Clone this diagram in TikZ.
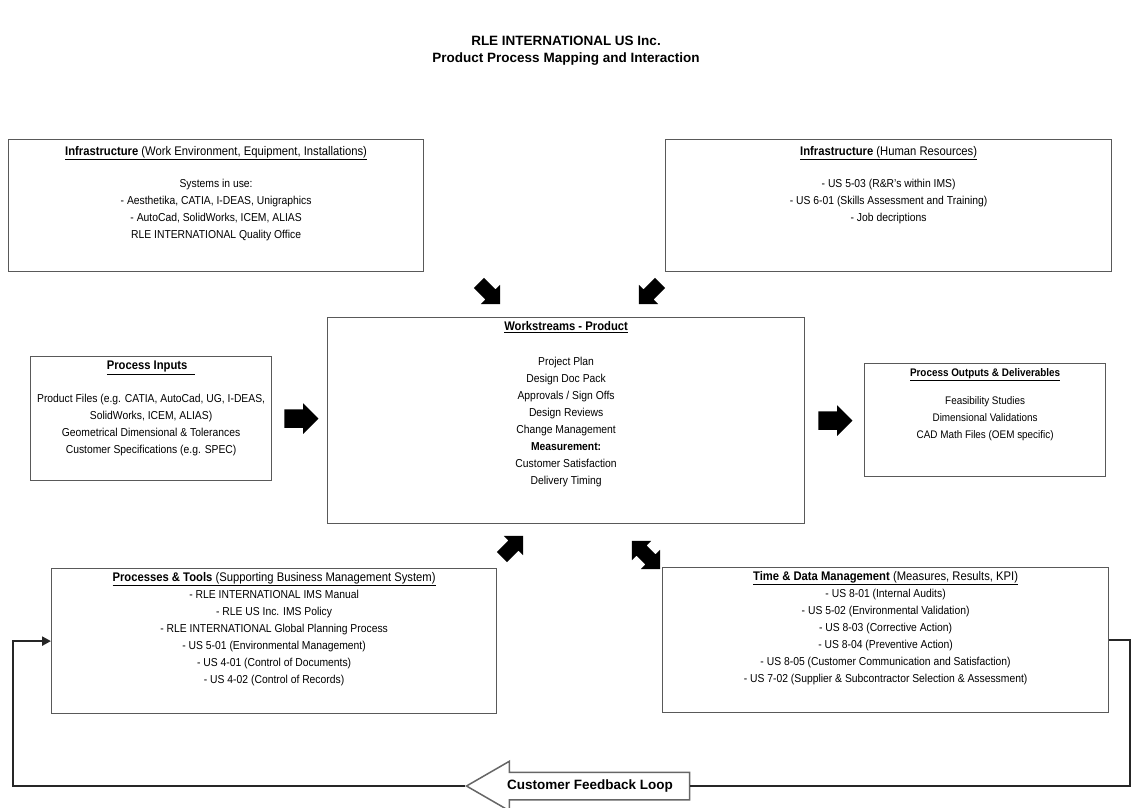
\documentclass[tikz,border=0pt]{standalone}
\usepackage{fontspec}
\setmainfont{Liberation Sans}[FakeStretch=0.9]
\newfontfamily\titlefont{Liberation Sans}
\usetikzlibrary{shapes.arrows,arrows.meta,positioning}

\newcommand{\boxhead}[1]{{\fontsize{12.5}{17}\selectfont\underline{#1}}}

\begin{document}
\begin{tikzpicture}[x=1pt,y=-1pt,
    panel/.style={draw=black!65, line width=1.2pt, fill=white, anchor=north west},
    paneltext/.style={align=center, inner sep=0pt, anchor=north,
      font=\fontsize{11.5}{17}\selectfont},
    fat/.style={single arrow, fill=black, inner xsep=0pt, inner ysep=9pt,
      minimum height=34pt, single arrow head extend=6pt},
    diag/.style={single arrow, fill=black, inner xsep=0pt, inner ysep=7pt,
      minimum height=30pt, single arrow head extend=6.5pt},
    loopline/.style={line width=2.4pt, black!85}]
   \useasboundingbox (0,0) rectangle (1133,807);

   \node[font=\titlefont\bfseries\fontsize{13.5}{17}\selectfont, align=center] (title) at (566,51)
     {RLE INTERNATIONAL US Inc.\\ Product Process Mapping and Interaction};

   % resources feeding the work
   \node[panel, minimum width=415pt, minimum height=132pt] (infraWork) at (8,139) {};
   \node[paneltext, below=7pt of infraWork.north]
     {\boxhead{\textbf{Infrastructure} (Work Environment, Equipment, Installations)}\\[15pt]
      Systems in use:\\
      - Aesthetika, CATIA, I-DEAS, Unigraphics\\
      - AutoCad, SolidWorks, ICEM, ALIAS\\
      RLE INTERNATIONAL Quality Office};
   \node[panel, minimum width=446pt, minimum height=132pt] (infraHR) at (665,139) {};
   \node[paneltext, below=7pt of infraHR.north]
     {\boxhead{\textbf{Infrastructure} (Human Resources)}\\[15pt]
      - US 5-03 (R\&R's within IMS)\\
      - US 6-01 (Skills Assessment and Training)\\
      - Job decriptions};

   \node[panel, minimum width=477pt, minimum height=206pt] (work) at (327,317) {};
   \node[paneltext, below=4pt of work.north]
     {\boxhead{\textbf{Workstreams - Product}}\\[18pt]
      Project Plan\\
      Design Doc Pack\\
      Approvals / Sign Offs\\
      Design Reviews\\
      Change Management\\
      \textbf{Measurement:}\\
      Customer Satisfaction\\
      Delivery Timing};

   \node[panel, minimum width=241pt, minimum height=124pt] (inputs) at (30,356) {};
   \node[paneltext, below=5pt of inputs.north]
     {\boxhead{\textbf{Process Inputs}\hspace{8pt}}\\[16pt]
      Product Files (e.g. CATIA, AutoCad, UG, I-DEAS,\\
      SolidWorks, ICEM, ALIAS)\\
      Geometrical Dimensional \& Tolerances\\
      Customer Specifications (e.g. SPEC)};
   \node[panel, minimum width=241pt, minimum height=113pt] (outputs) at (864,363) {};
   \node[paneltext, below=5pt of outputs.north, font=\fontsize{11}{17}\selectfont]
     {\underline{\textbf{Process Outputs \& Deliverables}}\\[11pt]
      Feasibility Studies\\
      Dimensional Validations\\
      CAD Math Files (OEM specific)};

   \node[panel, minimum width=445pt, minimum height=145pt] (tools) at (51,568) {};
   \node[paneltext, below=4pt of tools.north]
     {\boxhead{\textbf{Processes \& Tools} (Supporting Business Management System)}\\
      - RLE INTERNATIONAL IMS Manual\\
      - RLE US Inc. IMS Policy\\
      - RLE INTERNATIONAL Global Planning Process\\
      - US 5-01 (Environmental Management)\\
      - US 4-01 (Control of Documents)\\
      - US 4-02 (Control of Records)};
   \node[panel, minimum width=446pt, minimum height=145pt] (timeData) at (662,567) {};
   \node[paneltext, below=4pt of timeData.north]
     {\boxhead{\textbf{Time \& Data Management} (Measures, Results, KPI)}\\
      - US 8-01 (Internal Audits)\\
      - US 5-02 (Environmental Validation)\\
      - US 8-03 (Corrective Action)\\
      - US 8-04 (Preventive Action)\\
      - US 8-05 (Customer Communication and Satisfaction)\\
      - US 7-02 (Supplier \& Subcontractor Selection \& Assessment)};

   % block arrows
   \node[fat, right=12pt of inputs] (inArrow) {};
   \node[fat, right=13pt of work] (outArrow) {};
   \node[diag, rotate=-45] (toWorkL) at (487,291) {};
   \node[diag, rotate=-135] (toWorkR) at (652,291) {};
   \node[diag, rotate=45] (fromTools) at (510,549) {};
   \node[double arrow, fill=black, inner xsep=0pt, inner ysep=7pt, minimum height=40pt,
     double arrow head extend=6.5pt, rotate=135] (dataLink) at (646,555) {};

   % feedback loop
   \coordinate (cornerR) at (1130,786);
   \coordinate (cornerL) at (13,786);
   \node[single arrow, shape border rotate=180, draw=black!60, line width=1.5pt, fill=white,
     font=\titlefont\bfseries\fontsize{13.5}{15}\selectfont, text height=9.5pt, text depth=2.5pt,
     inner xsep=4pt, inner ysep=7pt, single arrow head extend=11pt, single arrow tip angle=60,
     minimum height=223pt, anchor=tip] (loop) at (465,786) {Customer Feedback Loop};
   \draw[loopline] (timeData.east) -| (cornerR) -- (loop.tail);
   \draw[loopline, -{Triangle[length=9pt,width=9pt]}] (loop.tip) -- (cornerL) |- (tools.west);
\end{tikzpicture}
\end{document}
